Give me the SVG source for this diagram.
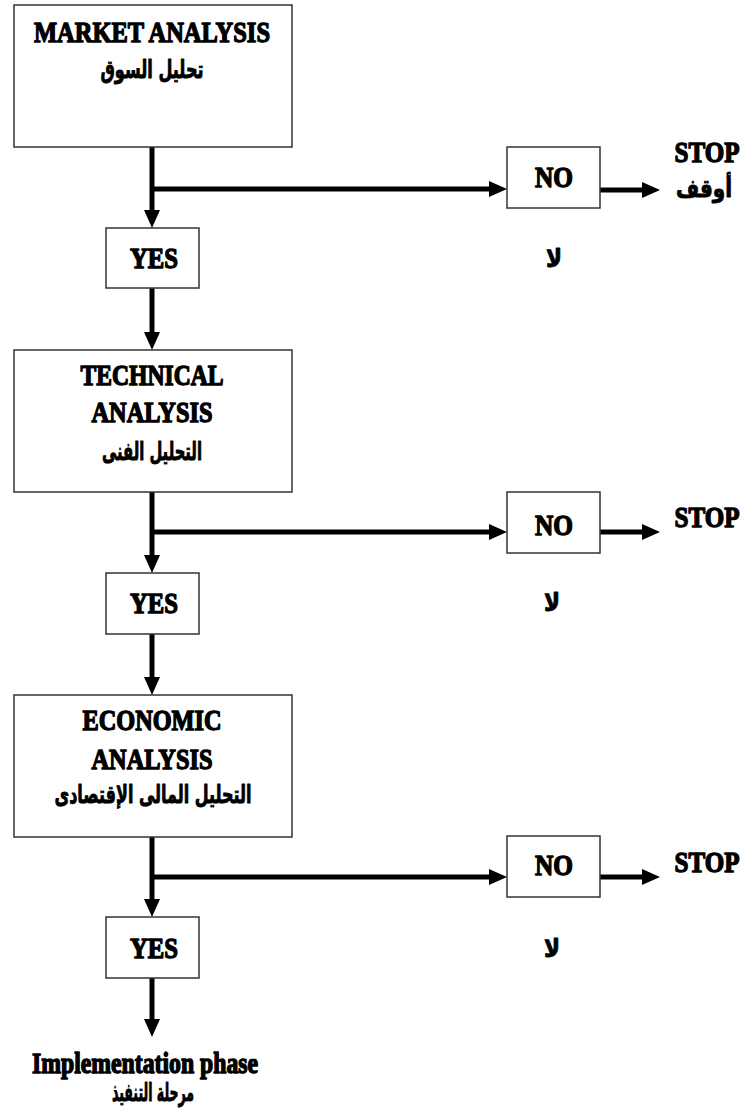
<svg xmlns="http://www.w3.org/2000/svg" width="750" height="1120" viewBox="0 0 750 1120">
  <style>
    .box { fill: #ffffff; stroke: #333333; stroke-width: 1.5; }
    .wire { fill: none; stroke: #000000; stroke-width: 5; }
    .en { font-family: "Liberation Serif", "Times New Roman", serif; font-weight: bold; font-size: 29px; fill: #000; stroke: #000; stroke-width: 1.4; stroke-linejoin: round; text-anchor: middle; }
    .ar { font-family: "DejaVu Sans", "Noto Sans", sans-serif; font-weight: bold; font-size: 25px; fill: #000; stroke: #000; stroke-width: 0.9; stroke-linejoin: round; text-anchor: middle; direction: rtl; }
  </style>
  <defs>
    <marker id="head" viewBox="0 0 18 16" markerWidth="18" markerHeight="16" refX="8" refY="8" orient="auto" markerUnits="userSpaceOnUse">
      <path d="M0,0 L18,8 L0,16 Z" fill="#000"/>
    </marker>
  </defs>

  <rect width="750" height="1120" fill="#ffffff"/>

  <!-- connectors -->
  <g id="connectors">
    <path class="wire" d="M152,147 V218" marker-end="url(#head)"/>
    <path class="wire" d="M152,189 H497" marker-end="url(#head)"/>
    <path class="wire" d="M600,190 H650" marker-end="url(#head)"/>
    <path class="wire" d="M152,288 V340" marker-end="url(#head)"/>

    <path class="wire" d="M152,492 V563" marker-end="url(#head)"/>
    <path class="wire" d="M152,532 H497" marker-end="url(#head)"/>
    <path class="wire" d="M600,532 H650" marker-end="url(#head)"/>
    <path class="wire" d="M152,634 V685" marker-end="url(#head)"/>

    <path class="wire" d="M152,837 V907" marker-end="url(#head)"/>
    <path class="wire" d="M152,877 H497" marker-end="url(#head)"/>
    <path class="wire" d="M600,877 H650" marker-end="url(#head)"/>
    <path class="wire" d="M152,978 V1027" marker-end="url(#head)"/>
  </g>

  <!-- stage 1 -->
  <g id="market">
    <rect class="box" x="14" y="5" width="278" height="142"/>
    <text class="en" x="152" y="42" textLength="236" lengthAdjust="spacingAndGlyphs">MARKET ANALYSIS</text>
    <text class="ar" x="152" y="78" textLength="103" lengthAdjust="spacingAndGlyphs">تحليل السوق</text>
  </g>
  <g id="yes1">
    <rect class="box" x="106" y="228" width="93" height="60"/>
    <text class="en" x="154" y="268" textLength="48" lengthAdjust="spacingAndGlyphs">YES</text>
  </g>
  <g id="no1">
    <rect class="box" x="507" y="147" width="93" height="61"/>
    <text class="en" x="554" y="187" textLength="38" lengthAdjust="spacingAndGlyphs">NO</text>
    <text class="ar" x="554" y="267" font-size="28" textLength="16" lengthAdjust="spacingAndGlyphs">لا</text>
  </g>
  <g id="stop1">
    <text class="en" x="707" y="162" textLength="65" lengthAdjust="spacingAndGlyphs">STOP</text>
    <text class="ar" font-size="22" transform="translate(704,197) scale(0.8,1)">أوقف</text>
  </g>

  <!-- stage 2 -->
  <g id="technical">
    <rect class="box" x="14" y="350" width="278" height="142"/>
    <text class="en" x="152" y="385" textLength="143" lengthAdjust="spacingAndGlyphs">TECHNICAL</text>
    <text class="en" x="152" y="422" textLength="121" lengthAdjust="spacingAndGlyphs">ANALYSIS</text>
    <text class="ar" x="152" y="460" textLength="100" lengthAdjust="spacingAndGlyphs">التحليل الفنى</text>
  </g>
  <g id="yes2">
    <rect class="box" x="106" y="573" width="93" height="61"/>
    <text class="en" x="154" y="613" textLength="48" lengthAdjust="spacingAndGlyphs">YES</text>
  </g>
  <g id="no2">
    <rect class="box" x="507" y="492" width="93" height="61"/>
    <text class="en" x="554" y="535" textLength="38" lengthAdjust="spacingAndGlyphs">NO</text>
    <text class="ar" x="552" y="611" font-size="28" textLength="16" lengthAdjust="spacingAndGlyphs">لا</text>
  </g>
  <g id="stop2">
    <text class="en" x="707" y="527" textLength="65" lengthAdjust="spacingAndGlyphs">STOP</text>
  </g>

  <!-- stage 3 -->
  <g id="economic">
    <rect class="box" x="14" y="695" width="278" height="142"/>
    <text class="en" x="152" y="730" textLength="139" lengthAdjust="spacingAndGlyphs">ECONOMIC</text>
    <text class="en" x="152" y="769" textLength="121" lengthAdjust="spacingAndGlyphs">ANALYSIS</text>
    <text class="ar" x="153" y="803" textLength="197" lengthAdjust="spacingAndGlyphs">التحليل المالى الإقتصادى</text>
  </g>
  <g id="yes3">
    <rect class="box" x="106" y="917" width="93" height="61"/>
    <text class="en" x="154" y="958" textLength="48" lengthAdjust="spacingAndGlyphs">YES</text>
  </g>
  <g id="no3">
    <rect class="box" x="507" y="836" width="93" height="61"/>
    <text class="en" x="554" y="875" textLength="38" lengthAdjust="spacingAndGlyphs">NO</text>
    <text class="ar" x="552" y="957" font-size="28" textLength="16" lengthAdjust="spacingAndGlyphs">لا</text>
  </g>
  <g id="stop3">
    <text class="en" x="707" y="872" textLength="65" lengthAdjust="spacingAndGlyphs">STOP</text>
  </g>

  <!-- outcome -->
  <g id="implementation">
    <text class="en" x="145" y="1073" textLength="226" lengthAdjust="spacingAndGlyphs">Implementation phase</text>
    <text class="ar" x="153" y="1101" textLength="82" lengthAdjust="spacingAndGlyphs">مرحلة التنفيذ</text>
  </g>
</svg>
